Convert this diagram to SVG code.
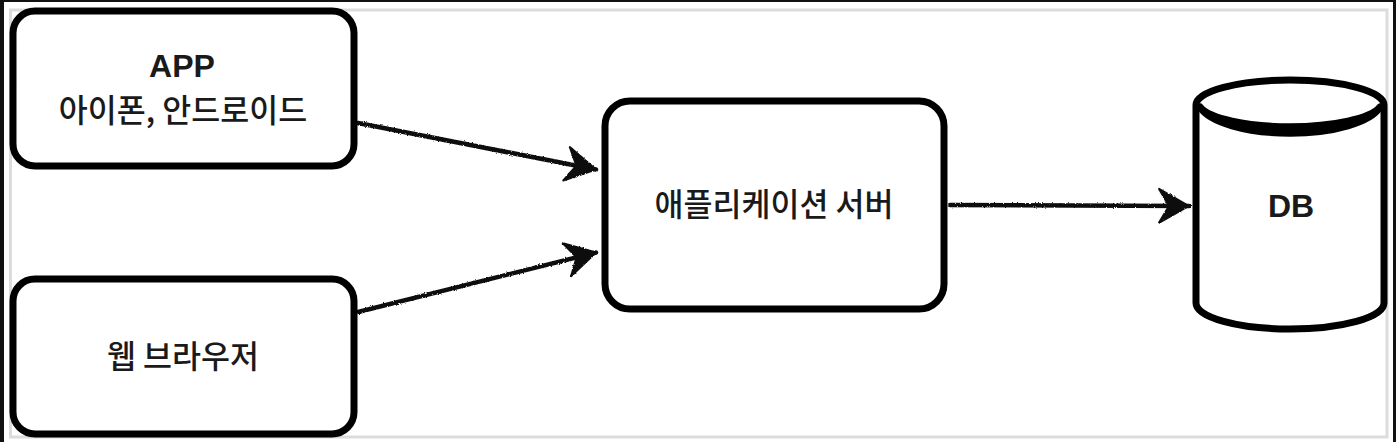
<svg xmlns="http://www.w3.org/2000/svg" width="1396" height="442" viewBox="0 0 1396 442">
  <style>
    .box { fill: #ffffff; stroke: #000000; stroke-width: 7; }
    .lbl { font-family: "Liberation Sans", "Noto Sans CJK KR", sans-serif; fill: #1a1a1a; text-anchor: middle; }
    .ko { font-family: "Noto Sans CJK KR", "Liberation Sans", sans-serif; font-size: 31.5px; font-weight: 500; }
    .en { font-size: 32px; font-weight: bold; }
    .edge { fill: none; stroke: #111111; stroke-width: 4.5; stroke-linecap: round; filter: url(#rough); }
  </style>
  <defs>
    <filter id="rough" filterUnits="userSpaceOnUse" x="0" y="0" width="1396" height="442">
      <feTurbulence type="fractalNoise" baseFrequency="0.9" numOctaves="2" seed="3" result="n"/>
      <feDisplacementMap in="SourceGraphic" in2="n" scale="2.5" xChannelSelector="R" yChannelSelector="G"/>
    </filter>
    <marker id="arr" markerUnits="userSpaceOnUse" markerWidth="40" markerHeight="40" refX="0" refY="0" viewBox="-34 -20 40 40" orient="auto" overflow="visible">
      <path d="M0,0 L-30,-17 L-20,0 L-30,17 Z" fill="#111111" stroke="#111111" stroke-width="2" stroke-linejoin="round"/>
    </marker>
  </defs>

  <!-- frame -->
  <rect x="0" y="0" width="1396" height="442" fill="#ffffff"/>
  <rect x="10.5" y="10" width="1376.5" height="427" fill="none" stroke="#dcdcdc" stroke-width="3"/>
  <rect x="0" y="0" width="4" height="442" fill="#111111"/>
  <rect x="0" y="0" width="1396" height="2" fill="#111111"/>
  <rect x="1393" y="0" width="3" height="442" fill="#111111"/>

  <g id="connectors">
    <path class="edge" d="M358,123 L596,169.5" marker-end="url(#arr)"/>
    <path class="edge" d="M358,312 L596,252.5" marker-end="url(#arr)"/>
    <path class="edge" d="M950,205 L1189,206" marker-end="url(#arr)"/>
  </g>

  <g id="app">
    <rect class="box" x="13" y="11" width="341" height="155" rx="22"/>
    <text class="lbl en" x="182" y="77">APP</text>
    <text class="lbl ko" x="183" y="122">아이폰, 안드로이드</text>
  </g>

  <g id="web">
    <rect class="box" x="13" y="279" width="341" height="155" rx="22"/>
    <text class="lbl ko" x="183" y="368">웹 브라우저</text>
  </g>

  <g id="server">
    <rect class="box" x="605" y="101" width="339" height="208" rx="25"/>
    <text class="lbl ko" x="774" y="216">애플리케이션 서버</text>
  </g>

  <g id="db">
    <path class="box" d="M1196,105 A94,25 0 0 1 1384,105 L1384,303 A94,26 0 0 1 1196,303 Z"/>
    <path d="M1200,107 A92,25 0 0 0 1380,107 A92,33 0 0 1 1200,107 Z" fill="#000000" stroke="#000000" stroke-width="7" stroke-linejoin="round"/>
    <text class="lbl en" x="1291" y="217">DB</text>
  </g>
</svg>
